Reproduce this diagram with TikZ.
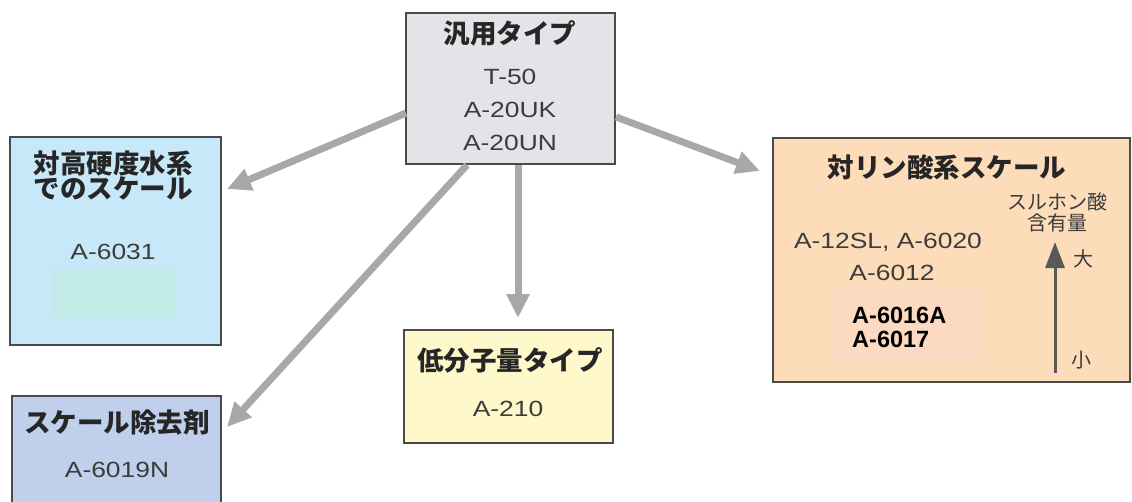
\documentclass[tikz,border=0pt]{standalone}
\usepackage{fontspec}
\setmainfont{Liberation Sans}
\newfontfamily\jp{Noto Sans CJK JP}
\newfontfamily\lat{Liberation Sans}[FakeStretch=1.2]
\usetikzlibrary{arrows.meta}
\definecolor{boxline}{HTML}{4A4A4A}
\definecolor{fgray}{HTML}{E4E4E8}
\definecolor{fblue}{HTML}{C7E8F8}
\definecolor{fgreen}{HTML}{C2EBE7}
\definecolor{flav}{HTML}{BFCFEC}
\definecolor{fyellow}{HTML}{FFF8CA}
\definecolor{forange}{HTML}{FDDCBA}
\definecolor{fpeach}{HTML}{FCDAC2}
\definecolor{txtgray}{HTML}{3C3C3C}
\definecolor{arrgray}{HTML}{A8A8A8}
\tikzset{
  panel/.style={draw=boxline, line width=1.5pt, inner sep=0pt},
  patch/.style={draw=none, inner sep=0pt},
  title/.style={inner sep=0pt, text=black!85, font=\jp\bfseries\fontsize{26.5}{31}\selectfont},
  item/.style={inner sep=0pt, text=txtgray, font=\lat\fontsize{22}{26}\selectfont},
  bitem/.style={inner sep=0pt, text=black, font=\bfseries\fontsize{23.5}{28}\selectfont, anchor=west},
  small/.style={inner sep=0pt, text=txtgray, font=\jp\fontsize{20}{24}\selectfont},
  bigarrow/.style={draw=arrgray, line width=7pt, -{Triangle[width=22pt,length=24pt]}},
}
\begin{document}
\begin{tikzpicture}[x=1pt,y=-1pt]
\useasboundingbox (0,0) rectangle (1132,501);

% boxes
\node[panel, fill=fgray, minimum width=209pt, minimum height=151pt] (gen) at (510.5,88.5) {};
\node[panel, fill=fblue, minimum width=211pt, minimum height=208pt] (hard) at (115.5,241) {};
\node[panel, fill=flav, minimum width=209pt, minimum height=130pt] (rem) at (116.5,461) {};
\node[panel, fill=fyellow, minimum width=209pt, minimum height=113pt] (low) at (508.5,386.5) {};
\node[panel, fill=forange, minimum width=357pt, minimum height=244pt] (phos) at (951.5,260) {};

% inner patches
\node[patch, fill=fgreen, minimum width=123pt, minimum height=49pt] (gpatch) at (114.5,293.5) {};
\node[patch, fill=fpeach, minimum width=148pt, minimum height=78pt] (ppatch) at (906,324) {};

% general
\node[title] (gent) at (510,33) {汎用タイプ};
\node[item] (g1) at (510,77) {T-50};
\node[item] (g2) at (510,110) {A-20UK};
\node[item] (g3) at (510,143) {A-20UN};

% hardness
\node[title] (h1) at (113,163) {対高硬度水系};
\node[title] (h2) at (113,188) {でのスケール};
\node[item] (h3) at (113,252) {A-6031};

% remover
\node[title] (r1) at (117,423) {スケール除去剤};
\node[item] (r2) at (117,470) {A-6019N};

% low molecular
\node[title] (l1) at (510,360) {低分子量タイプ};
\node[item] (l2) at (508,409) {A-210};

% phosphate
\node[title] (p1) at (947,167) {対リン酸系スケール};
\node[item] (p2) at (888,242) {A-12SL, A-6020};
\node[item] (p3) at (892,273) {A-6012};
\node[bitem] (p4) at (852,315) {A-6016A};
\node[bitem] (p5) at (852,339) {A-6017};
\node[small] (s1) at (1057,202) {スルホン酸};
\node[small] (s2) at (1057,223) {含有量};
\node[small] (big) at (1083,259) {大};
\node[small] (sml) at (1081,360) {小};
\coordinate (sbot) at (1055,373);
\coordinate (stop) at (1055,242);
\draw[draw=txtgray!85, line width=3pt, -{Triangle[width=19pt,length=26pt]}] (sbot) -- (stop);

% connectors
\coordinate (a1s) at (406,113);
\coordinate (a1e) at (227,189);
\coordinate (a2s) at (616,117);
\coordinate (a2e) at (760,171);
\coordinate (a3s) at (467,165);
\coordinate (a3e) at (227,427);
\coordinate (a4s) at (518,165);
\coordinate (a4e) at (518,318);
\draw[bigarrow] (a1s) -- (a1e);
\draw[bigarrow] (a2s) -- (a2e);
\draw[bigarrow] (a3s) -- (a3e);
\draw[bigarrow] (a4s) -- (a4e);
\end{tikzpicture}
\end{document}
